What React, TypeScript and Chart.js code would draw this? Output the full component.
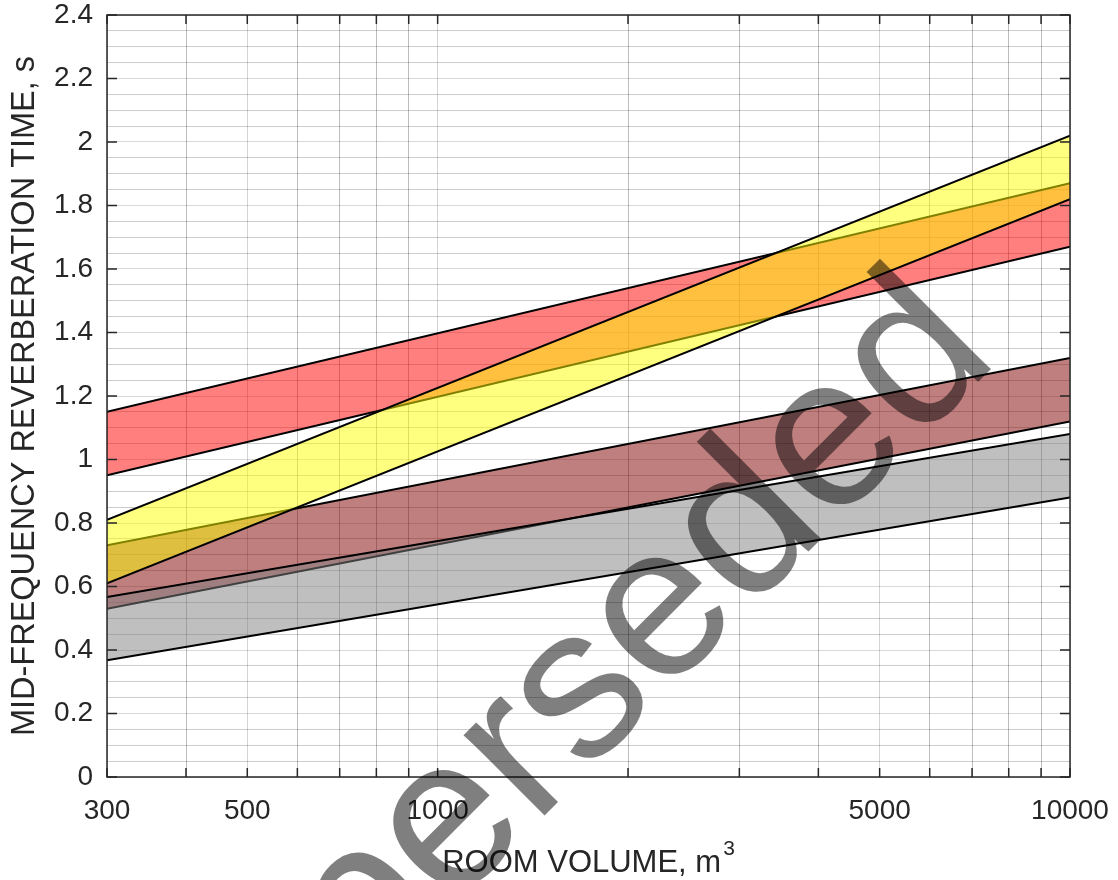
import React, { useEffect, useRef } from 'react';
import { Chart, registerables } from 'chart.js';

Chart.register(...registerables);

// Room volume end points (m^3) of each straight line on the log axis
const roomVolume = [300, 10000];

// Band edges: mid-frequency reverberation time (s) at 300 and 10000 m^3
const redUpper = [1.15, 1.87];
const redLower = [0.95, 1.67];
const brownUpper = [0.73, 1.32];
const brownLower = [0.53, 1.12];
const greyUpper = [0.567, 1.08];
const greyLower = [0.368, 0.88];
const yellowUpper = [0.81, 2.02];
const yellowLower = [0.61, 1.82];

// Axis ticks
const xGridValues = [300, 400, 500, 600, 700, 800, 900, 1000, 2000, 3000, 4000, 5000, 6000, 7000, 8000, 9000, 10000];
const xLabelValues = [300, 500, 1000, 5000, 10000];
const yLabelValues = [0, 0.2, 0.4, 0.6, 0.8, 1, 1.2, 1.4, 1.6, 1.8, 2, 2.2, 2.4];
const yGridStep = 0.05;
const yMax = 2.4;

const xTitleMain = 'ROOM VOLUME, m';
const xTitleSup = '3';
const yTitle = 'MID-FREQUENCY REVERBERATION TIME, s';
const watermarkText = 'Superseded';

const FONT = '"Liberation Sans", Arial, Helvetica, sans-serif';
const TEXT = '#262626';

const bands = [
  { name: 'red', upper: redUpper, lower: redLower, fill: 'rgba(255,0,0,0.5)' },
  { name: 'brown', upper: brownUpper, lower: brownLower, fill: 'rgba(128,0,0,0.5)' },
  { name: 'grey', upper: greyUpper, lower: greyLower, fill: 'rgba(128,128,128,0.5)' },
  { name: 'yellow', upper: yellowUpper, lower: yellowLower, fill: 'rgba(255,255,0,0.5)' },
];

const isYLabel = (v: number) => yLabelValues.some((t) => Math.abs(t - v) < 1e-6);

const zeroPadding = (scale: any) => {
  scale.paddingLeft = 0;
  scale.paddingRight = 0;
  scale.paddingTop = 0;
  scale.paddingBottom = 0;
};

export default function App() {
  const canvasRef = useRef<HTMLCanvasElement | null>(null);

  useEffect(() => {
    const canvas = canvasRef.current;
    if (!canvas) return;

    const pts = (ys: number[]) => roomVolume.map((x, i) => ({ x, y: ys[i] }));
    const datasets: any[] = [];
    bands.forEach((b) => {
      const target = datasets.length;
      datasets.push({
        label: b.name + ' fill target',
        data: pts(b.lower),
        borderColor: 'rgba(0,0,0,0)',
        borderWidth: 0,
        pointRadius: 0,
        fill: false,
      });
      datasets.push({
        label: b.name + ' upper',
        data: pts(b.upper),
        borderColor: '#000000',
        borderWidth: 2,
        backgroundColor: b.fill,
        pointRadius: 0,
        fill: target,
      });
      datasets.push({
        label: b.name + ' lower',
        data: pts(b.lower),
        borderColor: '#000000',
        borderWidth: 2,
        pointRadius: 0,
        fill: false,
      });
    });
    datasets.forEach((d, i) => {
      d.order = datasets.length - i;
      d.tension = 0;
    });

    const yGridValues: number[] = [];
    for (let i = 0; i <= Math.round(yMax / yGridStep); i++) {
      yGridValues.push(Math.round(i * yGridStep * 100) / 100);
    }

    const framePlugin = {
      id: 'frame',
      afterDatasetsDraw(chart: any) {
        const { ctx, chartArea: a, scales } = chart;
        ctx.save();
        ctx.strokeStyle = TEXT;
        ctx.lineWidth = 1.5;
        ctx.beginPath();
        yLabelValues.forEach((v) => {
          const y = scales.y.getPixelForValue(v);
          ctx.moveTo(a.left, y);
          ctx.lineTo(a.left + 10, y);
          ctx.moveTo(a.right, y);
          ctx.lineTo(a.right - 10, y);
        });
        xGridValues.forEach((v) => {
          const x = scales.x.getPixelForValue(v);
          ctx.moveTo(x, a.bottom);
          ctx.lineTo(x, a.bottom - 9);
          ctx.moveTo(x, a.top);
          ctx.lineTo(x, a.top + 9);
        });
        ctx.stroke();
        ctx.strokeRect(a.left, a.top, a.right - a.left, a.bottom - a.top);

        // x-axis title with superscript
        const a2 = chart.chartArea;
        ctx.fillStyle = TEXT;
        ctx.textBaseline = 'alphabetic';
        ctx.textAlign = 'left';
        ctx.font = '31px ' + FONT;
        const wMain = ctx.measureText(xTitleMain).width;
        ctx.font = '21px ' + FONT;
        const wSup = ctx.measureText(xTitleSup).width;
        const cx = (a2.left + a2.right) / 2;
        const startX = cx - (wMain + wSup + 2) / 2;
        ctx.font = '31px ' + FONT;
        ctx.fillText(xTitleMain, startX, 872);
        ctx.font = '21px ' + FONT;
        ctx.fillText(xTitleSup, startX + wMain + 2, 855);
        ctx.restore();
      },
    };

    const watermarkPlugin = {
      id: 'watermark',
      afterDraw(chart: any) {
        const { ctx } = chart;
        ctx.save();
        ctx.translate(1001, 359);
        ctx.rotate((-45 * Math.PI) / 180);
        ctx.font = '216px ' + FONT;
        ctx.fillStyle = 'rgba(0,0,0,0.5)';
        ctx.textAlign = 'right';
        ctx.textBaseline = 'alphabetic';
        ctx.fillText(watermarkText, 0, 0);
        ctx.restore();
      },
    };

    const chart = new Chart(canvas, {
      type: 'line',
      data: { datasets },
      options: {
        responsive: false,
        animation: false,
        events: [],
        layout: { padding: { left: 0, top: 15, right: 48, bottom: 0 } },
        plugins: {
          legend: { display: false },
          tooltip: { enabled: false },
          filler: { drawTime: 'beforeDatasetDraw' },
        },
        scales: {
          x: {
            type: 'logarithmic',
            min: 300,
            max: 10000,
            afterBuildTicks: (scale: any) => {
              scale.ticks = xGridValues.map((v) => ({ value: v }));
            },
            afterFit: (scale: any) => {
              scale.height = 103;
              zeroPadding(scale);
            },
            ticks: {
              autoSkip: false,
              maxRotation: 0,
              minRotation: 0,
              padding: 17,
              color: TEXT,
              font: { family: FONT, size: 28 },
              callback: (value: any) => (xLabelValues.includes(Number(value)) ? String(value) : ''),
            },
            grid: {
              drawTicks: false,
              lineWidth: 1,
              color: (ctx: any) =>
                ctx.tick && xLabelValues.includes(ctx.tick.value) ? 'rgba(0,0,0,0.17)' : 'rgba(0,0,0,0.26)',
            },
            border: { display: false },
            title: { display: false },
          },
          y: {
            type: 'linear',
            min: 0,
            max: yMax,
            afterBuildTicks: (scale: any) => {
              scale.ticks = yGridValues.map((v) => ({ value: v }));
            },
            afterFit: (scale: any) => {
              scale.width = 107;
              zeroPadding(scale);
            },
            ticks: {
              autoSkip: false,
              padding: 14,
              color: TEXT,
              font: { family: FONT, size: 28 },
              callback: (value: any) => {
                const r = Math.round(Number(value) * 100) / 100;
                return isYLabel(r) ? String(r) : '';
              },
            },
            grid: {
              drawTicks: false,
              lineWidth: 1,
              color: (ctx: any) =>
                ctx.tick && isYLabel(Math.round(ctx.tick.value * 100) / 100)
                  ? 'rgba(0,0,0,0.15)'
                  : 'rgba(0,0,0,0.2)',
            },
            border: { display: false },
            title: {
              display: true,
              text: yTitle,
              color: TEXT,
              font: { family: FONT, size: 32.5, lineHeight: 1 },
              padding: { top: 9, bottom: 0 },
            },
          },
        },
      },
      plugins: [framePlugin, watermarkPlugin],
    } as any);

    return () => {
      chart.destroy();
    };
  }, []);

  return (
    <div style={{ position: 'absolute', left: 0, top: 0, width: 1118, height: 880 }}>
      <canvas ref={canvasRef} width={1118} height={880} style={{ display: 'block' }} />
    </div>
  );
}
